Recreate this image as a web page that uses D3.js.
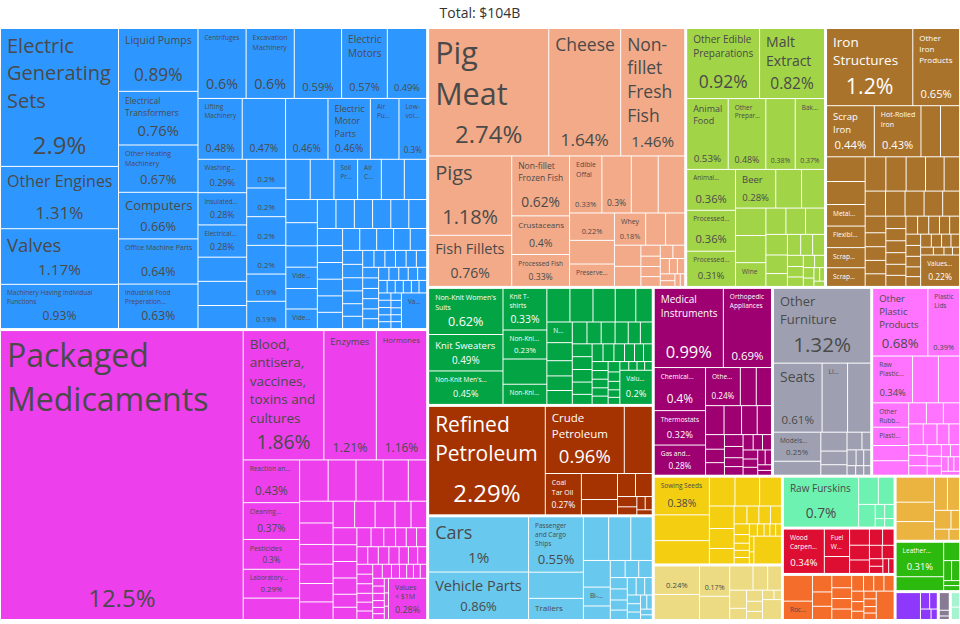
<!DOCTYPE html>
<html><head><meta charset="utf-8">
<script src="https://cdn.jsdelivr.net/npm/d3@7"></script>
<style>
html,body{margin:0;padding:0;background:#fff;}
svg{display:block;font-family:"Open Sans",sans-serif;}
</style></head><body>
<svg id="chart" width="960" height="624"></svg>
<script>
const totalLabel = "Total: $104B";
const CATCH_ALL = 1, SHARE_ONLY = 2;

// leaves: [name, share %, flag]
const machines = [
 ["Electric Generating Sets", 2.9], ["Other Engines", 1.31], ["Valves", 1.17], ["Machinery Having Individual Functions", 0.93],
 ["Liquid Pumps", 0.89], ["Electrical Transformers", 0.76], ["Other Heating Machinery", 0.67], ["Computers", 0.66],
 ["Office Machine Parts", 0.64], ["Industrial Food Preperation Machinery", 0.63],
 ["Centrifuges", 0.6], ["Excavation Machinery", 0.6], ["", 0.59, SHARE_ONLY], ["Electric Motors", 0.57], ["", 0.49, SHARE_ONLY],
 ["Lifting Machinery", 0.48], ["", 0.47, SHARE_ONLY], ["", 0.46, SHARE_ONLY], ["Electric Motor Parts", 0.46], ["Air Pumps", 0.31], ["Low-voltage Protection Equipment", 0.3],
 ["Washing Machines", 0.29], ["Insulated Wire", 0.28], ["Electrical Lighting and Signaling Equipment", 0.28], ["", 0.21], ["", 0.21], ["", 0.2],
 ["Stone Processing Machines", 0.2], ["", 0.2, SHARE_ONLY], ["Liquid Dispersing Machines", 0.2], ["Other Electrical Machinery", 0.2], ["Electrical Capacitors", 0.19], ["", 0.19, SHARE_ONLY],
 ["", 0.175], ["", 0.17], ["Soil Preparation Machinery", 0.17], ["Air Conditioners", 0.17], ["", 0.165], ["", 0.16],
 ["", 0.13], ["", 0.13], ["", 0.12], ["Video Displays", 0.12], ["", 0.115], ["Video Recording Equipment", 0.11],
 ["", 0.096], ["", 0.095], ["", 0.094], ["", 0.094], ["", 0.093], ["", 0.092],
 ["", 0.077], ["", 0.076], ["", 0.075], ["", 0.075], ["", 0.074], ["", 0.073],
 ["", 0.067], ["", 0.066], ["", 0.066], ["", 0.065], ["", 0.064],
 ["", 0.05], ["", 0.048], ["", 0.047], ["", 0.046], ["", 0.045], ["", 0.044],
 ["", 0.034], ["", 0.033], ["", 0.032], ["", 0.032], ["", 0.031], ["", 0.031],
 ["", 0.03], ["", 0.03], ["", 0.029], ["", 0.029], ["", 0.028], ["", 0.028],
 ["", 0.024], ["", 0.023], ["", 0.022], ["", 0.022], ["", 0.021],
 ["", 0.019], ["", 0.018], ["", 0.018], ["", 0.018], ["", 0.017], ["", 0.017],
 ["", 0.016], ["", 0.016], ["", 0.016], ["", 0.015], ["", 0.015],
 ["", 0.014], ["", 0.014], ["", 0.013], ["", 0.013], ["", 0.013],
 ["Values < $1M", 0.16, CATCH_ALL]
];
const chemicals = [
 ["Packaged Medicaments", 12.5], ["Blood, antisera, vaccines, toxins and cultures", 1.86], ["Enzymes", 1.21], ["Hormones", 1.16],
 ["Reaction and Catalytic Products", 0.43], ["Cleaning Products", 0.37], ["Pesticides", 0.3], ["Laboratory Reagents", 0.29],
 ["", 0.215], ["", 0.21], ["", 0.205], ["", 0.2], ["", 0.185],
 ["", 0.135], ["", 0.13], ["", 0.128], ["", 0.118], ["", 0.115],
 ["", 0.11], ["", 0.105], ["", 0.102], ["", 0.097], ["", 0.094],
 ["", 0.076], ["", 0.074], ["", 0.072], ["", 0.071], ["", 0.07], ["", 0.069],
 ["", 0.055], ["", 0.052], ["", 0.048], ["", 0.043], ["", 0.04], ["", 0.036],
 ["", 0.035], ["", 0.034], ["", 0.034], ["", 0.033], ["", 0.033], ["", 0.032],
 ["", 0.029], ["", 0.029], ["", 0.028], ["", 0.028], ["", 0.027], ["", 0.027],
 ["", 0.025], ["", 0.025], ["", 0.024], ["", 0.024], ["", 0.023], ["", 0.02],
 ["", 0.018], ["", 0.017], ["", 0.017], ["", 0.016], ["", 0.016], ["", 0.015], ["", 0.015],
 ["", 0.014], ["", 0.013], ["", 0.012], ["", 0.011], ["", 0.01], ["", 0.01],
 ["Values < $1M", 0.28, CATCH_ALL]
];
const animalProducts = [
 ["Pig Meat", 2.74], ["Cheese", 1.64], ["Non-fillet Fresh Fish", 1.46], ["Pigs", 1.18], ["Fish Fillets", 0.76],
 ["Non-fillet Frozen Fish", 0.62], ["Crustaceans", 0.4], ["Processed Fish", 0.33], ["Edible Offal", 0.33], ["", 0.3, SHARE_ONLY], ["", 0.275], ["", 0.27],
 ["Milk", 0.22], ["", 0.19], ["Preserved Milk", 0.18], ["Whey", 0.18], ["", 0.115], ["", 0.11], ["", 0.1], ["", 0.095],
 ["", 0.038], ["", 0.036], ["", 0.035], ["", 0.034], ["", 0.03], ["", 0.028], ["", 0.025], ["", 0.022], ["", 0.02], ["", 0.018], ["", 0.015], ["", 0.012], ["", 0.01]
];
const foodstuffs = [
 ["Other Edible Preparations", 0.92], ["Malt Extract", 0.82], ["Animal Food", 0.53], ["Other Prepared Meat", 0.48], ["", 0.376, SHARE_ONLY], ["Baked Goods", 0.374],
 ["Animal Meal and Pellets", 0.36], ["Processed Vegetables", 0.36], ["Processed Fruits and Nuts", 0.31],
 ["Beer", 0.28], ["", 0.18], ["", 0.16], ["", 0.15], ["", 0.148], ["Wine", 0.13], ["", 0.095], ["", 0.093],
 ["", 0.09], ["", 0.08], ["", 0.072], ["", 0.05], ["", 0.05], ["", 0.045], ["", 0.045],
 ["", 0.032], ["", 0.03], ["", 0.027], ["", 0.025], ["", 0.022], ["", 0.02], ["", 0.016], ["", 0.014], ["", 0.012], ["", 0.01]
];
const metals = [
 ["Iron Structures", 1.2], ["Other Iron Products", 0.65], ["Scrap Iron", 0.44], ["Hot-Rolled Iron", 0.43], ["", 0.18], ["", 0.175],
 ["", 0.172], ["", 0.16], ["Metal Mountings", 0.15], ["Flexible Metal Tubing", 0.15], ["Scrap Aluminium", 0.14], ["Scrap Copper", 0.13],
 ["", 0.128], ["", 0.125], ["", 0.12], ["", 0.115], ["", 0.095],
 ["", 0.092], ["", 0.088], ["", 0.086], ["", 0.084], ["", 0.076], ["", 0.062],
 ["", 0.052], ["", 0.051], ["", 0.05], ["", 0.047], ["", 0.045], ["", 0.044], ["", 0.043], ["", 0.042],
 ["", 0.04], ["", 0.04], ["", 0.038], ["", 0.036], ["", 0.035], ["", 0.033], ["", 0.032], ["", 0.03], ["", 0.029], ["", 0.028],
 ["", 0.026], ["", 0.026], ["", 0.025], ["", 0.024], ["", 0.022], ["", 0.02], ["", 0.018], ["", 0.015], ["", 0.012], ["", 0.01],
 ["Values < $1M", 0.22, CATCH_ALL]
];
const textiles = [
 ["Non-Knit Women's Suits", 0.62], ["Knit Sweaters", 0.49], ["Non-Knit Men's Suits", 0.45], ["Knit T-shirts", 0.33], ["Non-Knit Women's Shirts", 0.23], ["", 0.2], ["Non-Knit Men's Shirts", 0.16],
 ["", 0.14], ["", 0.14], ["", 0.135], ["", 0.125], ["", 0.1],
 ["Non-Knit Active Wear", 0.095], ["", 0.083], ["", 0.07], ["", 0.067], ["", 0.064],
 ["", 0.058], ["", 0.056], ["", 0.055], ["", 0.052], ["", 0.048], ["", 0.047],
 ["", 0.046], ["", 0.046], ["", 0.045], ["", 0.044], ["", 0.036], ["", 0.035], ["", 0.035], ["", 0.034], ["", 0.032], ["", 0.029], ["", 0.028],
 ["", 0.026], ["", 0.025], ["", 0.025], ["", 0.024], ["", 0.024],
 ["", 0.022], ["", 0.02], ["", 0.018], ["", 0.016], ["", 0.015], ["", 0.014], ["", 0.013], ["", 0.012], ["", 0.012],
 ["Values < $1M", 0.2, CATCH_ALL]
];
const mineralProducts = [
 ["Refined Petroleum", 2.29], ["Crude Petroleum", 0.96], ["", 0.34], ["Coal Tar Oil", 0.27], ["", 0.17], ["", 0.1], ["", 0.075], ["", 0.07], ["", 0.036], ["", 0.028], ["", 0.02], ["", 0.017], ["", 0.014]
];
const transportation = [
 ["Cars", 1.0], ["Vehicle Parts", 0.86], ["Passenger and Cargo Ships", 0.55], ["", 0.26], ["Trailers", 0.21], ["", 0.2], ["", 0.175], ["", 0.17], ["", 0.13],
 ["Bi-Wheel Vehicle Parts", 0.092], ["", 0.066], ["", 0.046], ["", 0.042], ["", 0.042], ["", 0.035], ["", 0.034], ["", 0.031], ["", 0.029], ["", 0.028], ["", 0.027],
 ["", 0.024], ["", 0.021], ["", 0.02], ["", 0.018], ["", 0.016], ["", 0.014], ["", 0.012], ["", 0.01]
];
const instruments = [
 ["Medical Instruments", 0.99], ["Orthopedic Appliances", 0.69], ["Chemical Analysis Instruments", 0.4], ["Thermostats", 0.32], ["Gas and Liquid Flow Measuring Instruments", 0.28], ["Other Measuring Instruments", 0.24],
 ["", 0.11], ["", 0.105], ["", 0.097], ["", 0.092], ["", 0.082], ["", 0.075],
 ["", 0.05], ["", 0.046], ["", 0.043], ["", 0.04], ["", 0.038], ["", 0.03], ["", 0.029], ["", 0.028], ["", 0.026], ["", 0.025], ["", 0.024], ["", 0.022], ["", 0.021], ["", 0.02], ["", 0.017], ["", 0.014], ["", 0.012]
];
const miscellaneous = [
 ["Other Furniture", 1.32], ["Seats", 0.61], ["Lighting Fixtures", 0.32], ["", 0.29], ["Models and Stuffed Animals", 0.25],
 ["", 0.12], ["", 0.09], ["", 0.065], ["", 0.05], ["", 0.048], ["", 0.028], ["", 0.026], ["", 0.022], ["", 0.02], ["", 0.015], ["", 0.014], ["", 0.012]
];
const plastics = [
 ["Other Plastic Products", 0.68], ["Plastic Lids", 0.39], ["Raw Plastic Sheeting", 0.34], ["", 0.22], ["", 0.18], ["Other Rubber Products", 0.16], ["Plastic Pipes", 0.12], ["Plastic Housewares", 0.1],
 ["", 0.095], ["", 0.068], ["", 0.065], ["", 0.062], ["", 0.055], ["", 0.052], ["", 0.045], ["", 0.04], ["", 0.036], ["", 0.035], ["", 0.032], ["", 0.03],
 ["", 0.025], ["", 0.024], ["", 0.02], ["", 0.02], ["", 0.018], ["", 0.015], ["", 0.015], ["", 0.013]
];
const vegetableProducts = [
 ["Sowing Seeds", 0.38], ["", 0.26], ["", 0.235], ["", 0.135], ["", 0.13], ["", 0.115], ["", 0.102], ["", 0.09], ["", 0.07],
 ["", 0.042], ["", 0.039], ["", 0.038], ["", 0.036], ["", 0.03], ["", 0.024], ["", 0.02], ["", 0.02], ["", 0.018], ["", 0.018], ["", 0.015],
 ["", 0.013], ["", 0.013], ["", 0.013], ["", 0.013], ["", 0.01], ["", 0.14, CATCH_ALL]
];
const paperGoods = [
 ["Paper Containers", 0.24], ["", 0.21], ["", 0.17, SHARE_ONLY], ["", 0.13], ["", 0.105], ["", 0.066], ["", 0.062], ["", 0.057], ["", 0.035], ["", 0.033], ["", 0.03], ["", 0.024], ["", 0.02], ["", 0.013], ["", 0.07, CATCH_ALL]
];
const animalHides = [["Raw Furskins", 0.7], ["", 0.1], ["", 0.08], ["", 0.07], ["", 0.025], ["", 0.025], ["", 0.015], ["", 0.015]];
const woodProducts = [["Wood Carpentry", 0.34], ["Fuel Wood", 0.13], ["", 0.08], ["", 0.06], ["", 0.055], ["", 0.05], ["", 0.04], ["", 0.035], ["", 0.032], ["", 0.03], ["", 0.019], ["", 0.018], ["", 0.016], ["", 0.015]];
const stoneGlass = [["", 0.14], ["Rock Wool", 0.1], ["", 0.06], ["", 0.052], ["", 0.048], ["", 0.046], ["", 0.04], ["", 0.039], ["", 0.039], ["", 0.035], ["", 0.03], ["", 0.03], ["", 0.03], ["", 0.024], ["", 0.022], ["", 0.019], ["", 0.018], ["", 0.018], ["", 0.015], ["", 0.015], ["", 0.095, CATCH_ALL]];
const preciousMetals = [["", 0.18], ["", 0.14], ["", 0.135], ["", 0.08], ["", 0.075], ["", 0.058], ["", 0.03], ["", 0.03], ["", 0.022]];
const footwear = [["Leather Footwear", 0.31], ["", 0.125], ["", 0.055], ["", 0.03], ["", 0.03], ["", 0.015], ["", 0.015]];
const weapons = [["", 0.13], ["", 0.03], ["", 0.025], ["", 0.022], ["", 0.013]];
const artsAntiques = [["", 0.04], ["", 0.013], ["", 0.008]];
const biProducts = [["", 0.028], ["", 0.024]];

const sectorNames = ["Machines", "Chemical Products", "Animal Products", "Foodstuffs", "Metals", "Textiles", "Mineral Products",
 "Transportation", "Instruments", "Miscellaneous", "Plastics and Rubbers", "Vegetable Products", "Paper Goods", "Animal Hides",
 "Wood Products", "Stone And Glass", "Precious Metals", "Footwear and Headwear", "Weapons", "Arts and Antiques", "Animal and Vegetable Bi-Products"];
const sectorLeaves = [machines, chemicals, animalProducts, foodstuffs, metals, textiles, mineralProducts, transportation, instruments,
 miscellaneous, plastics, vegetableProducts, paperGoods, animalHides, woodProducts, stoneGlass, preciousMetals, footwear, weapons, artsAntiques, biProducts];
const sectorColors = ["#2e97ff", "#ed40ec", "#f2aa89", "#a2d447", "#aa732b", "#03a444", "#a53201", "#69c8ed", "#9e0071", "#9ea0b2",
 "#ff73ff", "#f4ce10", "#eddb84", "#6df2b1", "#dd0e31", "#f46d2a", "#ebb33f", "#2cba0f", "#8d38fa", "#877b93", "#a6f3cf"];
const sectorLightText = [0,0,0,0,1,1,1,0,1,0,0,0,0,0,1,0,0,1,1,1,0];

const W = 960, H = 624;
const svg = d3.select("#chart");

svg.append("text").attr("x", W/2).attr("y", 18).attr("text-anchor", "middle")
  .attr("font-size", 14).attr("fill", "#333").text(totalLabel);

const root = d3.hierarchy({name: "root", children: sectorNames.map((n, i) => ({
    name: n, sector: i,
    children: sectorLeaves[i].map(([name, v, flag]) => ({name, value: v, flag: flag || 0, sector: i}))
  }))})
  .sum(d => d.value || 0)
  .sort((a, b) => ((a.data.flag === CATCH_ALL) - (b.data.flag === CATCH_ALL)) || (b.value - a.value));

d3.treemap().tile(d3.treemapSquarify).size([958, 590])
  .paddingInner(d => d.depth === 0 ? 3 : 1)(root);

const g = svg.append("g").attr("transform", "translate(1,29)");

const fmtBig = d3.format(".3~r"), fmtSmall = d3.format(".2~r");
const fmtShare = v => (v >= 1 ? fmtBig(v) : fmtSmall(v)) + "%";

const ctx = document.createElement("canvas").getContext("2d");
function tw(t, s) { ctx.font = s + 'px "Open Sans"'; return ctx.measureText(t).width; }
function tokens(name) {
  const out = [];
  name.split(/\s+/).forEach((w, wi) => {
    w.split(/(?<=-)(?=.)/).forEach((p, pi) => out.push({t: p, sep: (pi === 0 && wi > 0) ? " " : ""}));
  });
  return out;
}
function wrap(toks, s, maxW) {
  const lines = []; let cur = null;
  for (const k of toks) {
    if (cur === null) { cur = k.t; continue; }
    const t = cur + k.sep + k.t;
    if (tw(t, s) <= maxW) cur = t; else { lines.push(cur); cur = k.t; }
  }
  if (cur !== null) lines.push(cur);
  return lines;
}
function ellipsize(text, s, maxW) {
  let t = text;
  if (tw(t + "...", s) <= maxW) return t + "...";
  while (t.length > 0 && tw(t + "...", s) > maxW) t = t.slice(0, -1);
  t = t.replace(/\s+$/, "");
  return t.length ? t + "..." : null;
}
const PADX = 6, PADT = 4, LH = 1.37, MINS = 6.5;
const blockH = (n, s) => s * (1.3 + (n - 1) * LH);
function fitName(name, w, cellH, h) {
  const maxW = w - PADX - 5;
  if (maxW < 8 || h < blockH(1, MINS)) return null;
  const toks = tokens(name);
  const maxS = Math.min(32, Math.sqrt(w * cellH) / 4);
  for (let s = Math.floor(maxS * 2) / 2; s >= MINS; s -= 0.5) {
    const lines = wrap(toks, s, maxW);
    if (lines.every(l => tw(l, s) <= maxW) && blockH(lines.length, s) <= h) return {s, lines};
  }
  const s = MINS;
  let n = 1;
  while (blockH(n + 1, s) <= h) n++;
  const all = wrap(toks, s, maxW);
  const out = [];
  for (let i = 0; i < Math.min(n, all.length); i++) {
    const isLastKept = i === n - 1 && all.length > n;
    let l = all[i];
    if (isLastKept || tw(l, s) > maxW) {
      l = ellipsize(l, s, maxW);
      if (l) out.push(l);
      break;
    }
    out.push(l);
  }
  return out.length ? {s, lines: out} : null;
}

const leaves = root.leaves();
const cell = g.selectAll("g.leaf").data(leaves).join("g").attr("class", "leaf");
cell.append("rect")
  .attr("x", d => d.x0).attr("y", d => d.y0)
  .attr("width", d => Math.max(0, d.x1 - d.x0)).attr("height", d => Math.max(0, d.y1 - d.y0))
  .attr("fill", d => sectorColors[d.data.sector]);

cell.each(function(d) {
  const w = d.x1 - d.x0, h = d.y1 - d.y0;
  if (w < 16 || h < 12) return;
  if (!d.data.name && d.data.flag !== SHARE_ONLY) return;
  const sel = d3.select(this);
  const color = sectorLightText[d.data.sector] ? "#ffffff" : "#4a4a4a";
  const pctText = fmtShare(d.data.value);
  const pctS = Math.min(24, 0.28 * h, 0.68 * w / tw(pctText, 1));
  const showPct = pctS >= 6.8;
  if (showPct) {
    sel.append("text").attr("x", (d.x0 + d.x1) / 2).attr("y", d.y1 - 3 - pctS * 0.38)
      .attr("text-anchor", "middle").attr("font-size", pctS.toFixed(2)).attr("fill", color).text(pctText);
  }
  if (d.data.name) {
    const nameH = h - PADT - (showPct ? 4 + pctS * 1.45 : 2);
    const fit = fitName(d.data.name, w, h, nameH);
    if (fit) {
      const t = sel.append("text").attr("font-size", fit.s).attr("fill", color);
      fit.lines.forEach((l, i) => {
        t.append("tspan").attr("x", d.x0 + PADX).attr("y", d.y0 + PADT + fit.s * (1.0 + i * LH)).text(l);
      });
    }
  }
});
</script>
</body></html>
